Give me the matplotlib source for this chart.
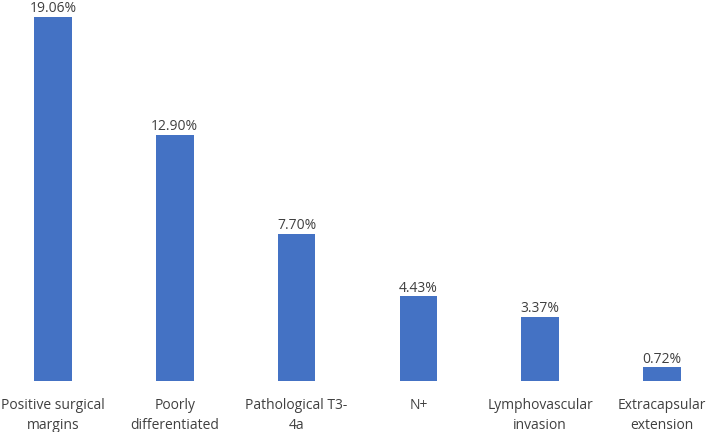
import matplotlib
matplotlib.use("Agg")
import matplotlib.pyplot as plt
import numpy as np

categories = ["Positive surgical\nmargins", "Poorly\ndifferentiated", "Pathological T3-\n4a",
              "N+", "Lymphovascular\ninvasion", "Extracapsular\nextension"]
values = [19.06, 12.90, 7.70, 4.43, 3.37, 0.72]
labels = ["19.06%", "12.90%", "7.70%", "4.43%", "3.37%", "0.72%"]

plt.rcParams['font.family'] = ['Open Sans', 'DejaVu Sans']

fig = plt.figure(figsize=(7.09, 4.32), dpi=100)
ax = fig.add_axes([0, 51 / 432, 1, 364 / 432])

x = np.arange(len(values))
ax.bar(x, values, width=0.31, color='#4472C4')
for xi, v, lab in zip(x, values, labels):
    ax.text(xi, v + 0.24, lab, ha='center', va='baseline', fontsize=10, color='#404040')

ax.set_xlim(-0.435, 5.386)
ax.set_ylim(0, 19.06)
ax.set_xticks(x)
ax.set_xticklabels(categories, fontsize=10, color='#404040', linespacing=1.45)
ax.tick_params(axis='x', length=0, pad=12)
ax.set_yticks([])
for s in ax.spines.values():
    s.set_visible(False)

fig.savefig("out.png", dpi=100)
